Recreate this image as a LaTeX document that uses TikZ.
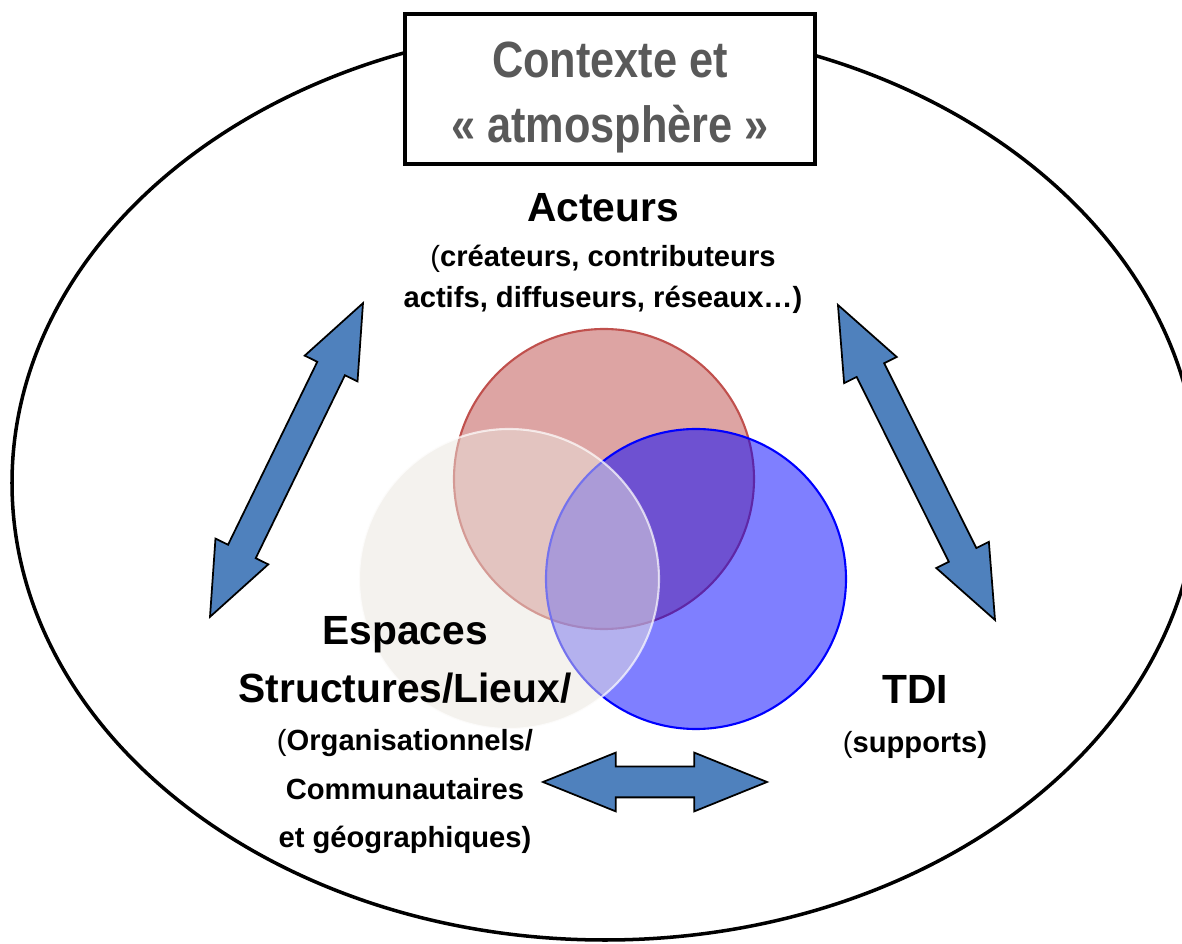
\documentclass[tikz,border=0pt]{standalone}
\usepackage{fontspec}
\setmainfont{Liberation Sans}
\newfontfamily\narrowsans[FakeStretch=0.85]{Liberation Sans}
\usetikzlibrary{shapes.arrows}
\definecolor{ctxgray}{RGB}{89,89,89}
\definecolor{actfill}{RGB}{221,164,163}
\definecolor{actline}{RGB}{192,80,77}
\definecolor{espfill}{RGB}{233,229,221}
\definecolor{dblfill}{RGB}{79,129,189}
\tikzstyle{ttl} = [rectangle, draw, line width=1.2pt, fill=white,
    minimum width=4.1cm, minimum height=1.5cm]
\tikzstyle{lbl} = [align=center, inner sep=0pt,
    font=\fontsize{8.3}{13.7}\selectfont\bfseries]
\tikzstyle{vc} = [circle, minimum size=3cm, inner sep=0pt, line width=0.6pt]
\tikzstyle{dbl} = [double arrow, draw, line width=0.5pt, fill=dblfill,
    inner xsep=0pt, inner ysep=0.145cm, double arrow head extend=0.14cm,
    double arrow tip angle=44]
\newcommand{\bigtxt}[1]{{\fontsize{11.6}{14}\selectfont #1}}
\newcommand{\softpar}{{\mdseries(}}

\begin{document}
\begin{tikzpicture}
  \useasboundingbox (0,0) rectangle (11.82,-9.44);
  \clip (0,0) rectangle (11.82,-9.44);
  \draw[line width=1pt] (6.05,-4.83) ellipse [x radius=5.93, y radius=4.57];
  \node[ttl] (ctx) at (6.10,-0.89) {};
  \node[align=center, inner sep=0pt, text=ctxgray,
    font=\narrowsans\fontsize{14.5}{18.5}\selectfont\bfseries] (ctxt) at (6.10,-0.974)
    {Contexte et\\«~atmosphère~»};

  \node[vc, fill=actfill, draw=actline] (ca) at (6.04,-4.79) {};
  \node[vc, fill=blue, fill opacity=0.5, draw=blue] (ct) at (6.96,-5.79) {};
  \node[vc, fill=espfill, fill opacity=0.5, draw=white, draw opacity=0.7] (ce) at (5.09,-5.79) {};

  \node[lbl, font=\fontsize{8.3}{11.7}\selectfont\bfseries] (act) at (6.03,-2.533)
    {\bigtxt{Acteurs}\\[1.1pt]\softpar créateurs, contributeurs\\actifs, diffuseurs, réseaux…)};
  \node[lbl] (esp) at (4.05,-7.35)
    {\bigtxt{Espaces}\\[2.8pt]\bigtxt{Structures/Lieux/}\\\softpar Organisationnels/\\Communautaires\\et géographiques)};
  \node[lbl] (tdi) at (9.15,-7.17) {\bigtxt{TDI}\\\softpar supports)};

  \node[dbl, rotate=64, minimum height=3.49cm] (la) at (2.865,-4.60) {};
  \node[dbl, rotate=-63.5, minimum height=3.52cm] (ra) at (9.165,-4.625) {};
  \node[dbl, minimum height=2.24cm] (ba) at (6.55,-7.82) {};
\end{tikzpicture}
\end{document}
